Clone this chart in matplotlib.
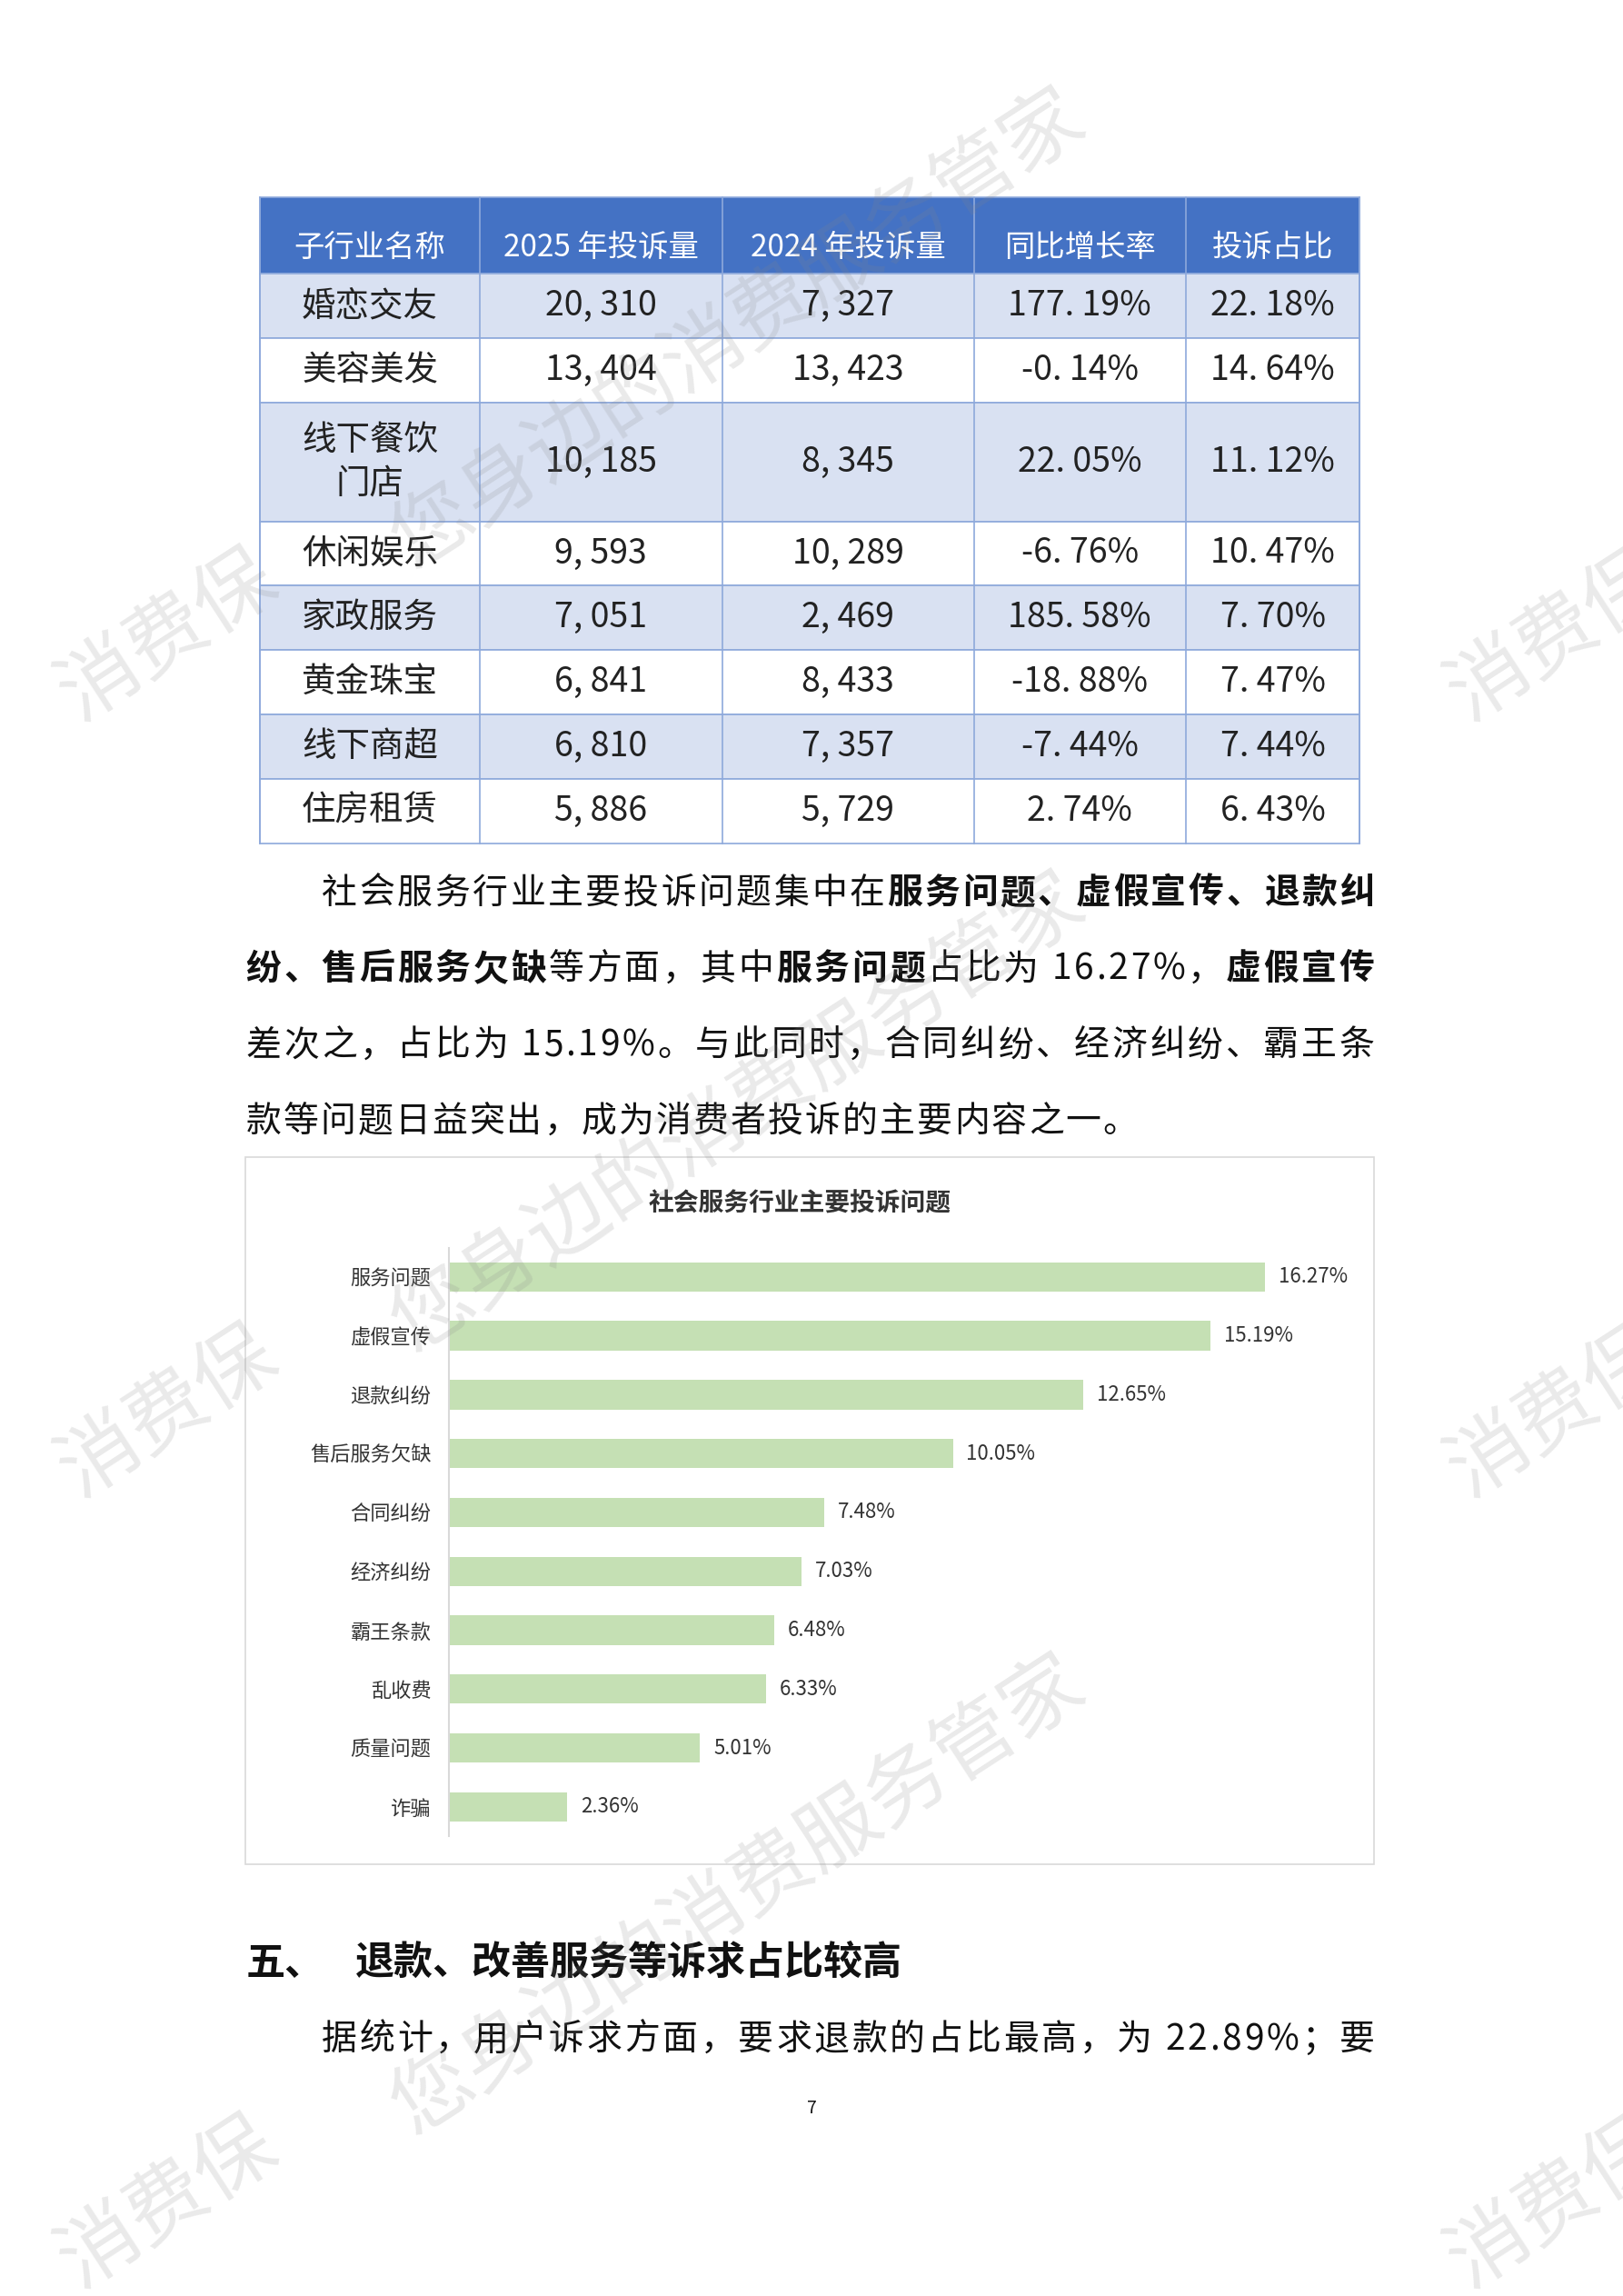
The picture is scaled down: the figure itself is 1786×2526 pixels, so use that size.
import matplotlib
matplotlib.use("Agg")
import matplotlib.pyplot as plt
from matplotlib.patches import Rectangle

plt.rcParams['font.family'] = ['Noto Sans CJK SC', 'DejaVu Sans']

# ---- data ----
tbl_header = ["子行业名称", "2025 年投诉量", "2024 年投诉量", "同比增长率", "投诉占比"]
tbl_names = ["婚恋交友", "美容美发", "线下餐饮\n门店", "休闲娱乐", "家政服务", "黄金珠宝", "线下商超", "住房租赁"]
tbl_2025 = ["20, 310", "13, 404", "10, 185", "9, 593", "7, 051", "6, 841", "6, 810", "5, 886"]
tbl_2024 = ["7, 327", "13, 423", "8, 345", "10, 289", "2, 469", "8, 433", "7, 357", "5, 729"]
tbl_growth = ["177. 19%", "-0. 14%", "22. 05%", "-6. 76%", "185. 58%", "-18. 88%", "-7. 44%", "2. 74%"]
tbl_share = ["22. 18%", "14. 64%", "11. 12%", "10. 47%", "7. 70%", "7. 47%", "7. 44%", "6. 43%"]

issues = ["服务问题", "虚假宣传", "退款纠纷", "售后服务欠缺", "合同纠纷", "经济纠纷", "霸王条款", "乱收费", "质量问题", "诈骗"]
issue_pct = [16.27, 15.19, 12.65, 10.05, 7.48, 7.03, 6.48, 6.33, 5.01, 2.36]

W, H = 1110, 1568
fig = plt.figure(figsize=(17.86, 25.26), dpi=100)
fig.patch.set_facecolor("white")
def X(x): return x / W
def Y(y): return 1 - y / H

# ---- table ----
cols = [178, 328, 494, 666, 811, 930]
rows = [135, 187, 231, 275, 356, 400, 444, 488, 532, 576]
border = "#8EA9DB"
for i in range(len(rows) - 1):
    y0, y1 = rows[i], rows[i + 1]
    fc = "#4472C4" if i == 0 else ("#D9E1F2" if i % 2 == 1 else "white")
    fig.patches.append(Rectangle((X(cols[0]), Y(y1)), X(cols[-1]) - X(cols[0]), Y(y0) - Y(y1),
                                 transform=fig.transFigure, facecolor=fc, edgecolor=border, lw=1.2, zorder=-5))
for c in cols:
    fig.add_artist(plt.Line2D([X(c), X(c)], [Y(rows[0]), Y(rows[-1])], color=border, lw=1.2))
for i, h in enumerate(tbl_header):
    fig.text(X((cols[i] + cols[i + 1]) / 2), Y(rows[0] + 34), h, ha="center", va="center",
             color="white", fontsize=24)
cols_data = [tbl_names, tbl_2025, tbl_2024, tbl_growth, tbl_share]
for r in range(len(tbl_names)):
    yc = (rows[r + 1] + rows[r + 2]) / 2
    for c in range(5):
        fig.text(X((cols[c] + cols[c + 1]) / 2), Y(yc), cols_data[c][r], ha="center", va="center",
                 color="#222222", fontsize=27, linespacing=1.3)

# ---- paragraph (justified) ----
renderer = fig.canvas.get_renderer()
FS = 28
def width_of(ch, bold):
    t = fig.text(0, 0, ch, fontsize=FS, fontweight="bold" if bold else "normal")
    w = t.get_window_extent(renderer=renderer).width / fig.bbox.width
    t.remove()
    return w
def draw_line(x0, y, pieces, just):
    chars = [(ch, b) for s, b in pieces for ch in s]
    widths = [width_of(ch, b) for ch, b in chars]
    total = sum(widths)
    gap = (X(940) - X(x0) - total) / (len(chars) - 1) if just else 0.0012
    x = X(x0)
    for (ch, b), w in zip(chars, widths):
        fig.text(x, Y(y), ch, ha="left", va="center", fontsize=FS,
                 fontweight="bold" if b else "normal", color="#111111")
        x += w + gap

para = [
    (220, True, [("社会服务行业主要投诉问题集中在", False), ("服务问题、虚假宣传、退款纠", True)]),
    (168, True, [("纷、售后服务欠缺", True), ("等方面，其中", False), ("服务问题", True), ("占比为 16.27%，", False), ("虚假宣传", True)]),
    (168, True, [("差次之，占比为 15.19%。与此同时，合同纠纷、经济纠纷、霸王条", False)]),
    (168, False, [("款等问题日益突出，成为消费者投诉的主要内容之一。", False)]),
]
for k, (x0, just, pieces) in enumerate(para):
    draw_line(x0, 610 + 52 * k, pieces, just)

# ---- chart box ----
fig.patches.append(Rectangle((X(168), Y(1273)), X(940) - X(168), Y(790) - Y(1273),
                             transform=fig.transFigure, facecolor="none", edgecolor="#D9D9D9", lw=1.2))
fig.text(X(547), Y(822), "社会服务行业主要投诉问题", ha="center", va="center",
         fontsize=20, fontweight="bold", color="#333333")
scale = (865 - 307) / 16.27
ax = fig.add_axes([X(307), Y(1254), X(930) - X(307), Y(852) - Y(1254)])
ypos = list(range(len(issues)))
ax.barh(ypos, issue_pct, height=0.5, color="#C5E0B4")
ax.set_xlim(0, (930 - 307) / scale)
ax.set_ylim(len(issues) - 0.5, -0.5)
ax.set_yticks(ypos)
ax.set_yticklabels(issues, fontsize=16, color="#333333")
ax.tick_params(axis="y", length=0, pad=14)
ax.set_xticks([])
for s in ["top", "right", "bottom"]:
    ax.spines[s].set_visible(False)
ax.spines["left"].set_color("#D9D9D9")
ax.spines["left"].set_linewidth(1.5)
ax.patch.set_alpha(0)
for yy, v in zip(ypos, issue_pct):
    ax.text(v + 0.27, yy, f"{v:.2f}%", va="center", ha="left", fontsize=16, color="#333333")

# ---- heading / text ----
fig.text(X(168), Y(1340), "五、", ha="left", va="center", fontsize=31, fontweight="bold", color="#111111")
fig.text(X(243), Y(1340), "退款、改善服务等诉求占比较高", ha="left", va="center", fontsize=31,
         fontweight="bold", color="#111111")
draw_line(220, 1393, [("据统计，用户诉求方面，要求退款的占比最高，为 22.89%；要", False)], True)
fig.text(X(555), Y(1440), "7", ha="center", va="center", fontsize=14, color="#111111")

# ---- watermarks ----
wm = dict(color="#888888", alpha=0.18, fontsize=64, ha="center", va="center", rotation=33, zorder=10)
for (x, y) in [(115, 435), (115, 965), (115, 1505), (1065, 435), (1065, 965), (1065, 1505)]:
    fig.text(X(x), Y(y), "消费保", **wm)
for (x, y) in [(505, 225), (505, 760), (505, 1295)]:
    fig.text(X(x), Y(y), "您身边的消费服务管家", **wm)

fig.savefig("out.png", dpi=100, facecolor="white")
